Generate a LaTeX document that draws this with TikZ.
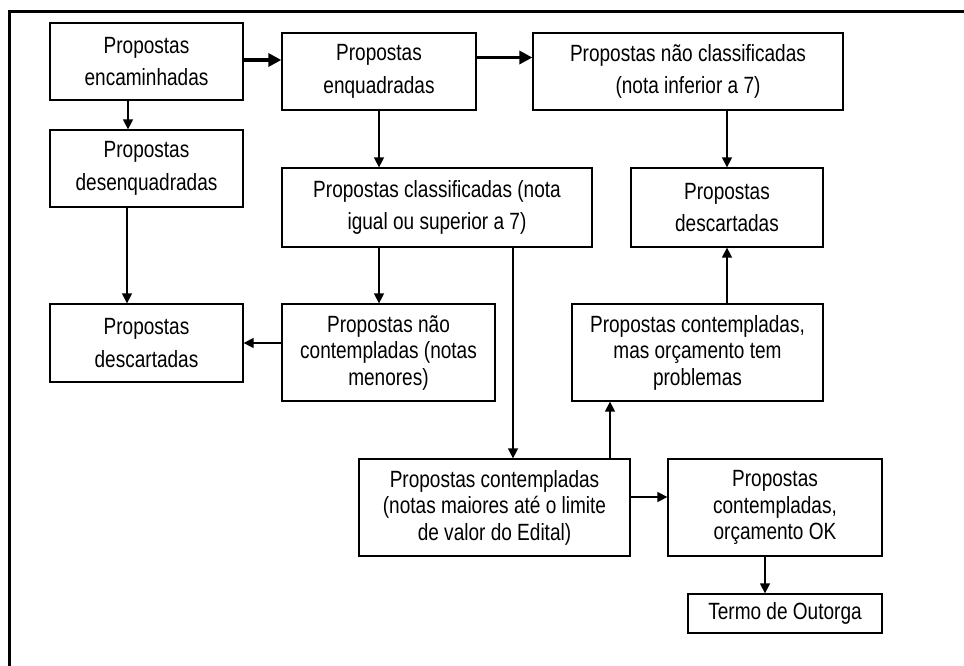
\documentclass[tikz,border=0pt]{standalone}
\usepackage{fontspec}
\setmainfont{Liberation Sans}[FakeStretch=0.81]
\usetikzlibrary{arrows.meta}
\begin{document}
\begin{tikzpicture}[x=1pt,y=-1pt,
  boxtwo/.style={draw=black,line width=1.3pt,rectangle,inner sep=0pt,align=center,
     font=\fontsize{23.5}{32.5}\selectfont},
  boxthree/.style={draw=black,line width=1.3pt,rectangle,inner sep=0pt,align=center,
     font=\fontsize{23.5}{26.5}\selectfont},
  arr/.style={line width=1.5pt,-{Triangle[length=10pt,width=10pt]}},
  thickarr/.style={line width=3.5pt,-{Triangle[length=13pt,width=13pt]}}]
\useasboundingbox (0,0) rectangle (964,665);
\fill[white] (0,0) rectangle (964,665);
% outer frame (partly cut off)
\draw[line width=3pt] (9.5,666) -- (9.5,11.5) -- (965,11.5);
% boxes
\node[boxtwo,minimum width=193pt,minimum height=77pt] (B1) at (146.5,61.5) {Propostas\\encaminhadas};
\node[boxtwo,minimum width=193pt,minimum height=77pt] (B2) at (146.5,168.5) {Propostas\\desenquadradas};
\node[boxtwo,minimum width=194pt,minimum height=77pt] (B3) at (379,71.5) {Propostas\\enquadradas};
\node[boxtwo,minimum width=310pt,minimum height=77pt] (B4) at (688,71.5) {Propostas não classificadas\\(nota inferior a 7)};
\node[boxtwo,minimum width=310pt,minimum height=79pt] (B5) at (437,207.5) {Propostas classificadas (nota\\igual ou superior a 7)};
\node[boxtwo,minimum width=192pt,minimum height=79pt] (B6) at (727,207.5) {Propostas\\descartadas};
\node[boxtwo,minimum width=193pt,minimum height=78pt] (B7) at (146.5,343) {Propostas\\descartadas};
\node[boxthree,minimum width=213pt,minimum height=97pt] (B8) at (388.5,352.5) {Propostas não\\contempladas (notas\\menores)};
\node[boxthree,minimum width=251pt,minimum height=97pt] (B9) at (697.5,352.5) {Propostas contempladas,\\mas orçamento tem\\problemas};
\node[boxthree,minimum width=271pt,minimum height=97pt] (B10) at (494.5,507.5) {Propostas contempladas\\(notas maiores até o limite\\de valor do Edital)};
\node[boxthree,minimum width=214pt,minimum height=97pt] (B11) at (775,507.5) {Propostas\\contempladas,\\orçamento OK};
\node[boxtwo,minimum width=194pt,minimum height=39pt] (B12) at (785,613.5) {Termo de Outorga};
% helper coordinates
\coordinate (c1) at ([xshift=-18.5pt]B1.south);
\coordinate (c1b) at ([xshift=-19.5pt]B2.south);
\coordinate (c3) at ([yshift=11.5pt]B3.west);
\coordinate (c4) at ([yshift=14pt]B4.west);
\coordinate (c6) at ([xshift=18.5pt]B10.north);
\coordinate (c7) at ([xshift=-87.5pt]B9.south);
\coordinate (c8) at ([yshift=10.5pt]B11.west);
\coordinate (c9) at ([xshift=-20pt]B12.north);
% connectors
\draw[thickarr] (B1.east |- c3) -- (c3);
\draw[thickarr] (B3.east |- c4) -- (c4);
\draw[arr] (c1) -- (c1 |- B2.north);
\draw[arr] (B3.south) -- (B3.south |- B5.north);
\draw[arr] (B6.north |- B4.south) -- (B6.north);
\draw[arr] (c1b) -- (c1b |- B7.north);
\draw[arr] (B3.south |- B5.south) -- (B3.south |- B8.north);
\draw[arr] (B8.west |- B7.east) -- (B7.east);
\draw[arr] (c6 |- B5.south) -- (c6);
\draw[arr] (c7 |- B10.north) -- (c7);
\draw[arr] (B6.south |- B9.north) -- (B6.south);
\draw[arr] (B10.east |- c8) -- (c8);
\draw[arr] (c9 |- B11.south) -- (c9);
\end{tikzpicture}
\end{document}
